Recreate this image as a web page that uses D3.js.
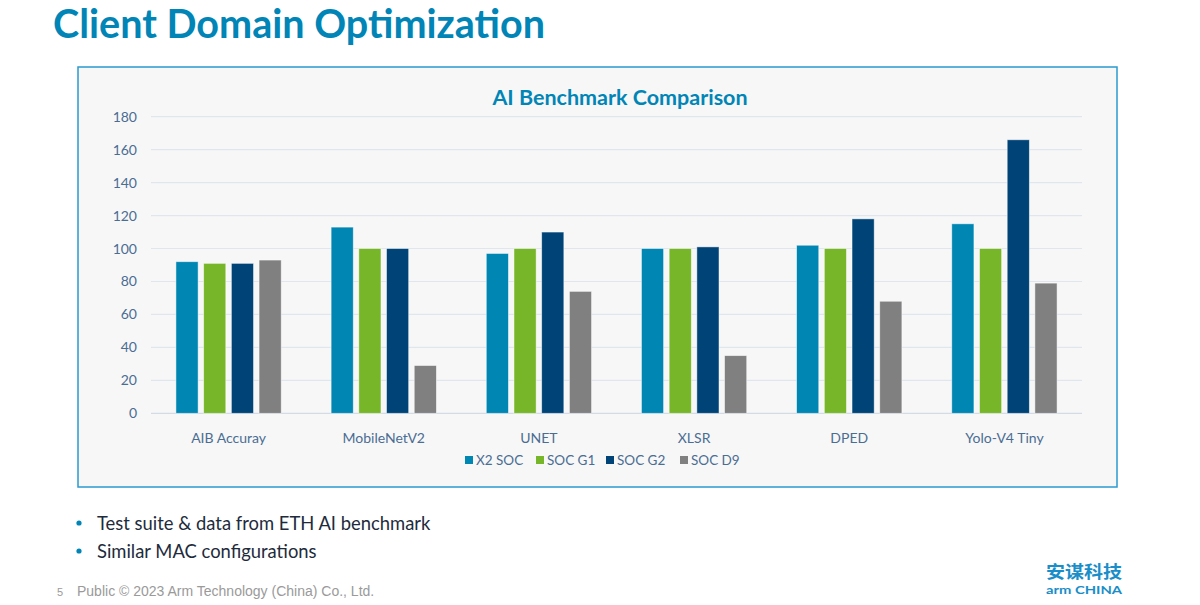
<!DOCTYPE html>
<html>
<head>
<meta charset="utf-8">
<script src="https://cdn.jsdelivr.net/npm/d3@7"></script>
<style>
  html, body { margin: 0; padding: 0; background: #fff; }
  svg { display: block; }
</style>
</head>
<body>
<div id="slide"></div>
<script>
// ---- data ----
const categories = ["AIB Accuray", "MobileNetV2", "UNET", "XLSR", "DPED", "Yolo-V4 Tiny"];
const seriesNames = ["X2 SOC", "SOC G1", "SOC G2", "SOC D9"];
const x2Soc = [92, 113, 97, 100, 102, 115];
const socG1 = [91, 100, 100, 100, 100, 100];
const socG2 = [91, 100, 110, 101, 118, 166];
const socD9 = [93, 29, 74, 35, 68, 79];
const yTicks = [0, 20, 40, 60, 80, 100, 120, 140, 160, 180];
const bullets = ["Test suite & data from ETH AI benchmark", "Similar MAC configurations"];

(function () {
  const W = 1200, H = 605;
  const COL = {
    brand: "#0085b6",
    axisText: "#4a6d93",
    grid: "#dfe6ee",
    panel: "#f7f7f7",
    border: "#2b9ad0",
    series: ["#0086b3", "#77b629", "#004477", "#808080"]
  };
  const CHART_FONT = "Lato, 'Open Sans', sans-serif";

  const svg = d3.select("#slide").append("svg")
    .attr("width", W).attr("height", H)
    .attr("viewBox", `0 0 ${W} ${H}`);

  // Slide title
  svg.append("text")
    .attr("x", 53).attr("y", 38)
    .attr("fill", COL.brand)
    .attr("textLength", 492).attr("lengthAdjust", "spacingAndGlyphs")
    .style("font", `bold 40px ${CHART_FONT}`)
    .text("Client Domain Optimization");

  // Chart panel
  svg.append("rect")
    .attr("x", 78).attr("y", 67).attr("width", 1039).attr("height", 420)
    .attr("fill", COL.panel)
    .attr("stroke", COL.border).attr("stroke-width", 1.5);

  svg.append("text")
    .attr("x", 620).attr("y", 105)
    .attr("text-anchor", "middle")
    .attr("fill", COL.brand)
    .style("font", `bold 21.5px ${CHART_FONT}`)
    .text("AI Benchmark Comparison");

  // Plot area
  const plot = { left: 151, right: 1082, top: 116.7, bottom: 413.3 };
  const series = [x2Soc, socG1, socG2, socD9];

  const x0 = d3.scaleBand().domain(categories).range([plot.left, plot.right]).paddingInner(0).paddingOuter(0);
  const x1 = d3.scaleBand().domain(seriesNames).range([0, x0.bandwidth()])
    .paddingInner(0.2).paddingOuter(0.9);
  const y = d3.scaleLinear().domain([0, 180]).range([plot.bottom, plot.top]);

  const g = svg.append("g");

  // Gridlines
  g.append("g").selectAll("line")
    .data(yTicks)
    .join("line")
    .attr("x1", plot.left).attr("x2", plot.right)
    .attr("y1", (d) => y(d)).attr("y2", (d) => y(d))
    .attr("stroke", (d) => (d === 0 ? "#d3dce6" : COL.grid))
    .attr("stroke-width", 1.2);

  // Y axis labels (axis line hidden, like the source)
  const yAxis = g.append("g")
    .attr("transform", `translate(${plot.left - 14},0)`)
    .call(d3.axisLeft(y).tickValues(yTicks).tickSize(0).tickPadding(0));
  yAxis.select(".domain").remove();
  yAxis.selectAll("text")
    .attr("fill", COL.axisText)
    .style("font", `14px ${CHART_FONT}`);

  // X axis labels
  const xAxis = g.append("g")
    .attr("transform", `translate(0,${plot.bottom + 12})`)
    .call(d3.axisBottom(x0).tickSize(0).tickPadding(8));
  xAxis.select(".domain").remove();
  xAxis.selectAll("text")
    .attr("fill", COL.axisText)
    .style("font", `14px ${CHART_FONT}`);

  // Bars
  const rows = categories.map((c, i) => ({
    cat: c,
    vals: seriesNames.map((s, j) => ({ s, j, v: series[j][i] }))
  }));

  g.append("g").selectAll("g")
    .data(rows)
    .join("g")
    .attr("transform", (d) => `translate(${x0(d.cat)},0)`)
    .selectAll("rect")
    .data((d) => d.vals)
    .join("rect")
    .attr("x", (d) => x1(d.s))
    .attr("width", x1.bandwidth())
    .attr("y", (d) => y(d.v))
    .attr("height", (d) => y(0) - y(d.v))
    .attr("fill", (d) => COL.series[d.j])
    .attr("stroke", "#ffffff").attr("stroke-opacity", 0.6).attr("stroke-width", 0.8);

  // Legend
  const legendItems = [
    { name: seriesNames[0], x: 465 },
    { name: seriesNames[1], x: 536 },
    { name: seriesNames[2], x: 606 },
    { name: seriesNames[3], x: 680 }
  ];
  const lg = svg.append("g").selectAll("g")
    .data(legendItems)
    .join("g")
    .attr("transform", (d) => `translate(${d.x},460)`);
  lg.append("rect")
    .attr("x", 0).attr("y", -4).attr("width", 8).attr("height", 8)
    .attr("fill", (d, i) => COL.series[i]);
  lg.append("text")
    .attr("x", 11).attr("y", 0)
    .attr("dominant-baseline", "central")
    .attr("fill", COL.axisText)
    .style("font", `13.5px ${CHART_FONT}`)
    .text((d) => d.name);

  // Bullet points
  const bl = svg.append("g").selectAll("g")
    .data(bullets)
    .join("g")
    .attr("transform", (d, i) => `translate(0,${523 + i * 28})`);
  bl.append("circle")
    .attr("cx", 79).attr("cy", 0).attr("r", 2.6)
    .attr("fill", COL.brand);
  bl.append("text")
    .attr("x", 97).attr("y", 0)
    .attr("dominant-baseline", "central")
    .attr("fill", "#1e2b3c")
    .style("font", `18.4px ${CHART_FONT}`)
    .text((d) => d);

  // Footer
  svg.append("text")
    .attr("x", 57).attr("y", 596)
    .attr("fill", "#9a9a9a")
    .style("font", "11px 'Liberation Sans', Arial, sans-serif")
    .text("5");
  svg.append("text")
    .attr("x", 77).attr("y", 596)
    .attr("fill", "#9a9a9a")
    .style("font", "14px 'Liberation Sans', Arial, sans-serif")
    .text("Public © 2023 Arm Technology (China) Co., Ltd.");

  // Logo
  svg.append("text")
    .attr("x", 1084).attr("y", 578)
    .attr("text-anchor", "middle")
    .attr("fill", "#1a8ec8")
    .attr("textLength", 76).attr("lengthAdjust", "spacingAndGlyphs")
    .style("font", "bold 17px 'Noto Sans CJK SC', sans-serif")
    .text("安谋科技");
  svg.append("text")
    .attr("x", 1084).attr("y", 594)
    .attr("text-anchor", "middle")
    .attr("fill", "#1a8ec8")
    .attr("textLength", 76).attr("lengthAdjust", "spacingAndGlyphs")
    .style("font", `bold 11.5px ${CHART_FONT}`)
    .text("arm CHINA");
})();
</script>
</body>
</html>
